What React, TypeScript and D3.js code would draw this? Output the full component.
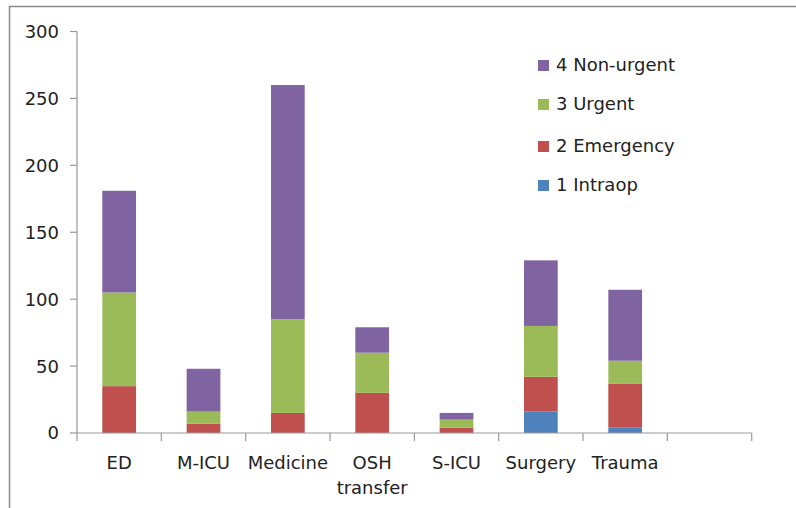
import React from "react";
import * as d3 from "d3";

const categories = ["ED", "M-ICU", "Medicine", "OSH transfer", "S-ICU", "Surgery", "Trauma", ""];
const intraop = [0, 0, 0, 0, 0, 16, 4, 0];
const emergency = [35, 7, 15, 30, 4, 26, 33, 0];
const urgent = [70, 9, 70, 30, 6, 38, 17, 0];
const nonUrgent = [76, 32, 175, 19, 5, 49, 53, 0];
const seriesNames = ["1 Intraop", "2 Emergency", "3 Urgent", "4 Non-urgent"];
const seriesColors = ["#4F81BD", "#C0504D", "#9BBB59", "#8064A2"];
const yTicks = [0, 50, 100, 150, 200, 250, 300];

const W = 796;
const H = 508;
const FONT = "'DejaVu Sans', sans-serif";

export default function App() {
  const x0 = 77, x1 = 751.7, yTop = 31.5, yBottom = 433;
  const x = d3.scaleBand<string>().domain(categories.map((c, i) => i + "")).range([x0, x1]).paddingInner(0.6).paddingOuter(0.3);
  const y = d3.scaleLinear().domain([0, 300]).range([yBottom, yTop]);
  const rows = categories.map((c, i) => ({ key: i + "", s0: intraop[i], s1: emergency[i], s2: urgent[i], s3: nonUrgent[i] }));
  const stack = d3.stack<any>().keys(["s0", "s1", "s2", "s3"])(rows);
  const step = (x1 - x0) / categories.length;
  const legendY = [185, 146, 104, 65];

  return (
    <svg width={W} height={H} style={{ position: "absolute", left: 0, top: 0 }} fontFamily={FONT}>
      <rect x={0} y={0} width={W} height={H} fill="#fff" />
      <rect x={9.5} y={6.5} width={W} height={H} fill="none" stroke="#8c8c8c" strokeWidth={1.5} />
      {stack.map((layer, si) => (
        <g key={si} fill={seriesColors[si]}>
          {layer.map((d, i) => (d[1] - d[0] > 0 ? (
            <rect key={i} x={x(i + "")} width={x.bandwidth()} y={y(d[1])} height={y(d[0]) - y(d[1])} />
          ) : null))}
        </g>
      ))}
      <g stroke="#999" strokeWidth={1.2}>
        <line x1={x0} x2={x0} y1={yTop} y2={yBottom} />
        <line x1={x0} x2={x1} y1={yBottom} y2={yBottom} />
        {yTicks.map((t) => <line key={t} x1={x0 - 7} x2={x0} y1={y(t)} y2={y(t)} />)}
        {d3.range(categories.length + 1).map((i) => (
          <line key={i} x1={x0 + i * step} x2={x0 + i * step} y1={yBottom} y2={yBottom + 8} />
        ))}
      </g>
      <g fontSize={18} fill="#222" textAnchor="end">
        {yTicks.map((t) => (
          <text key={t} x={59} y={y(t)} dy="0.36em">{t}</text>
        ))}
      </g>
      <g fontSize={18} fill="#222" textAnchor="middle">
        {categories.map((c, i) => {
          const cx = (x(i + "") as number) + x.bandwidth() / 2;
          const parts = c.split(" ");
          return (
            <text key={i} x={cx} y={469}>
              {parts.map((p, j) => (
                <tspan key={j} x={cx} dy={j === 0 ? 0 : 25}>{p}</tspan>
              ))}
            </text>
          );
        })}
      </g>
      <g fontSize={18} fill="#222">
        {seriesNames.map((n, i) => (
          <g key={n}>
            <rect x={538} y={legendY[i] - 5} width={11} height={11} fill={seriesColors[i]} />
            <text x={556} y={legendY[i]} dy="0.36em">{n}</text>
          </g>
        ))}
      </g>
    </svg>
  );
}
